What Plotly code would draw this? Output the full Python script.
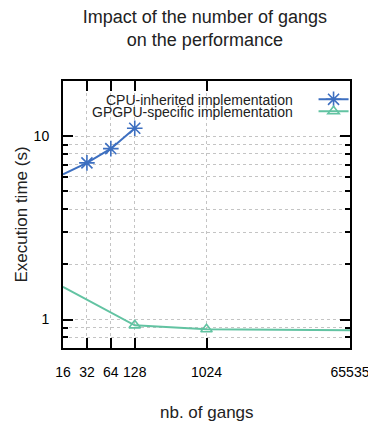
import plotly.graph_objects as go

gangs_cpu = [16, 32, 64, 128]
time_cpu = [6.2, 7.15, 8.55, 11.05]
gangs_gpu = [16, 128, 1024, 65535]
time_gpu = [1.51, 0.93, 0.885, 0.875]
x_ticks = [16, 32, 64, 128, 1024, 65535]
x_ticklabels = ["16", "32", "64", "128", "1024", "65535"]
y_major = [1, 10]
y_minor = [0.7, 0.8, 0.9, 2, 3, 4, 5, 6, 7, 8, 9, 20]
names = ["CPU-inherited implementation", "GPGPU-specific implementation"]
x_title = "nb. of gangs"
y_title = "Execution time (s)"

BLUE = "#3d6fc0"
GREEN = "#62c3a2"
FONT = "Liberation Sans, Arial, sans-serif"

fig = go.Figure()
fig.add_trace(go.Scatter(
    x=gangs_cpu, y=time_cpu, mode="lines+markers", name=" ",
    line=dict(color=BLUE, width=2),
    marker=dict(symbol="asterisk-open", size=13, line=dict(color=BLUE, width=1.6)),
    legend="legend", showlegend=True, cliponaxis=False,
))
fig.add_trace(go.Scatter(
    x=gangs_gpu, y=time_gpu, mode="lines+markers", name=" ",
    line=dict(color=GREEN, width=2),
    marker=dict(symbol="triangle-up-open", size=10, line=dict(color=GREEN, width=1.6)),
    legend="legend2", showlegend=True, cliponaxis=False,
))

grid = dict(showgrid=True, gridcolor="#c4c4c4", griddash="dot", gridwidth=1)

fig.update_layout(
    width=368, height=418,
    showlegend=True,
    margin=dict(l=55, r=26, t=73, b=78),
    paper_bgcolor="white", plot_bgcolor="white",
    font=dict(family=FONT, size=14, color="black"),
    title=dict(text="Impact of the number of gangs<br>on the performance",
               x=0.535, xanchor="center", y=0.965, yanchor="top",
               font=dict(size=18, family=FONT, color="#222")),
    xaxis=dict(type="log", range=[1.20412, 4.81647], automargin=False,
               tickvals=x_ticks, ticktext=x_ticklabels,
               ticks="inside", ticklen=10, tickwidth=1.5, tickcolor="black",
               showline=True, linecolor="black", linewidth=2, mirror="allticks",
               ticklabelstandoff=10, zeroline=False,
               **grid),
    yaxis=dict(type="log", range=[-0.155, 1.301], automargin=False,
               tickvals=y_major, ticktext=["1", "10"],
               ticks="inside", ticklen=10, tickwidth=1.5, tickcolor="black",
               showline=True, linecolor="black", linewidth=2, mirror="allticks",
               ticklabelstandoff=9, zeroline=False,
               minor=dict(tickvals=y_minor, ticks="inside", ticklen=5,
                          tickcolor="black", tickwidth=1.5,
                          showgrid=True, gridcolor="#c4c4c4", griddash="dot"),
               **grid),
    legend=dict(x=0.873, y=0.93, xanchor="left", yanchor="middle",
                bgcolor="rgba(0,0,0,0)", borderwidth=0, itemwidth=30,
                font=dict(size=14)),
    legend2=dict(x=0.873, y=0.885, xanchor="left", yanchor="middle",
                 bgcolor="rgba(0,0,0,0)", borderwidth=0, itemwidth=30,
                 font=dict(size=14)),
    annotations=[
        dict(text=names[0], xref="paper", yref="paper", x=0.807, y=0.93,
             xanchor="right", yanchor="middle", showarrow=False,
             font=dict(size=14, color="#222")),
        dict(text=names[1], xref="paper", yref="paper", x=0.807, y=0.885,
             xanchor="right", yanchor="middle", showarrow=False,
             font=dict(size=14, color="#222")),
        dict(text=x_title, xref="paper", yref="paper", x=0.5, y=-0.2434,
             xanchor="center", yanchor="middle", showarrow=False,
             font=dict(size=17, color="#222")),
        dict(text=y_title, xref="paper", yref="paper", x=-0.1429, y=0.5,
             xanchor="center", yanchor="middle", showarrow=False, textangle=-90,
             font=dict(size=17, color="#222")),
    ],
)

fig.write_html("out.html")
